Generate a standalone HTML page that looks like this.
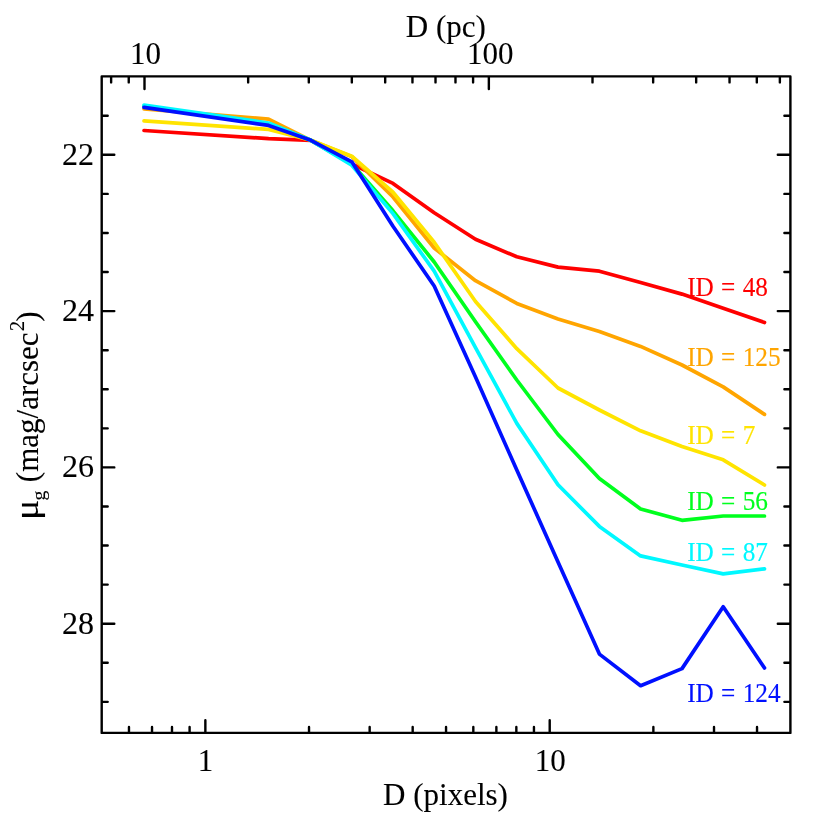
<!DOCTYPE html>
<html><head><meta charset="utf-8"><title>plot</title>
<style>html,body{margin:0;padding:0;background:#fff}svg{display:block;will-change:transform}text{font-family:"Liberation Serif",serif}</style></head><body>
<svg width="830" height="815" viewBox="0 0 830 815">
<rect width="830" height="815" fill="#fff"/>
<g fill="none" stroke-width="3.7" stroke-linejoin="round" stroke-linecap="round">
<polyline stroke="#ff0000" points="144.0,130.5 268.6,138.6 310.9,140.4 351.8,164.0 393.0,183.4 434.2,212.8 475.5,239.2 516.8,256.8 558.0,267.1 599.4,271.2 640.6,282.5 682.0,294.1 723.2,308.3 764.5,322.5"/>
<polyline stroke="#ffa500" points="144.0,109.0 268.6,119.1 310.9,140.3 351.8,156.6 393.0,197.0 434.2,248.0 475.5,280.7 516.8,303.4 558.0,318.9 599.4,331.5 640.6,346.4 682.0,365.0 723.2,386.9 764.5,414.4"/>
<polyline stroke="#ffe400" points="144.0,120.8 268.6,129.4 310.9,140.3 351.8,156.2 393.0,192.2 434.2,242.3 475.5,301.5 516.8,348.7 558.0,388.0 599.4,410.0 640.6,430.8 682.0,446.5 723.2,459.8 764.5,485.0"/>
<polyline stroke="#00ff1e" points="144.0,106.0 268.6,124.0 310.9,140.3 351.8,163.8 393.0,210.8 434.2,262.0 475.5,321.8 516.8,380.0 558.0,434.5 599.4,478.6 640.6,509.0 682.0,520.3 723.2,516.0 764.5,516.0"/>
<polyline stroke="#00f8ff" points="144.0,105.0 268.6,123.0 310.9,140.3 351.8,165.2 393.0,213.6 434.2,271.2 475.5,347.6 516.8,423.4 558.0,484.8 599.4,526.4 640.6,555.9 682.0,565.0 723.2,573.9 764.5,568.8"/>
<polyline stroke="#0010ff" points="144.0,107.3 268.6,125.4 310.9,140.3 351.8,161.8 393.0,226.3 434.2,286.0 475.5,377.0 516.8,470.0 558.0,562.0 599.4,654.1 640.6,685.7 682.0,668.6 723.2,606.8 764.5,668.0"/>
</g>
<g font-size="26.6" word-spacing="1.0">
<text transform="translate(687.2,295.8) scale(0.95,1)" fill="#ff0000" stroke="#ff0000" stroke-width="0.15">ID = 48</text>
<text transform="translate(687.2,365.5) scale(0.95,1)" fill="#ffa500" stroke="#ffa500" stroke-width="0.15">ID = 125</text>
<text transform="translate(687.2,443.6) scale(0.95,1)" fill="#ffe400" stroke="#ffe400" stroke-width="0.15">ID = 7</text>
<text transform="translate(687.2,509.5) scale(0.95,1)" fill="#00ff1e" stroke="#00ff1e" stroke-width="0.15">ID = 56</text>
<text transform="translate(687.2,560.7) scale(0.95,1)" fill="#00f8ff" stroke="#00f8ff" stroke-width="0.15">ID = 87</text>
<text transform="translate(687.2,701.7) scale(0.95,1)" fill="#0010ff" stroke="#0010ff" stroke-width="0.15">ID = 124</text>
</g>
<path d="M101.7,76.4H790.4V732.9H101.7ZM128.97,732.9v-6.0M152.02,732.9v-6.0M171.99,732.9v-6.0M189.60,732.9v-6.0M205.36,732.9v-12.6M309.02,732.9v-6.0M369.66,732.9v-6.0M412.68,732.9v-6.0M446.05,732.9v-6.0M473.32,732.9v-6.0M496.37,732.9v-6.0M516.34,732.9v-6.0M533.95,732.9v-6.0M549.71,732.9v-12.6M653.37,732.9v-6.0M714.01,732.9v-6.0M757.03,732.9v-6.0M111.13,76.4v6.0M128.74,76.4v6.0M144.50,76.4v12.6M248.16,76.4v6.0M308.80,76.4v6.0M351.82,76.4v6.0M385.19,76.4v6.0M412.46,76.4v6.0M435.51,76.4v6.0M455.48,76.4v6.0M473.09,76.4v6.0M488.85,76.4v12.6M592.51,76.4v6.0M653.15,76.4v6.0M696.17,76.4v6.0M729.54,76.4v6.0M756.81,76.4v6.0M779.86,76.4v6.0M101.7,115.73h6.0M790.4,115.73h-6.0M101.7,154.80h12.6M790.4,154.80h-12.6M101.7,193.88h6.0M790.4,193.88h-6.0M101.7,232.95h6.0M790.4,232.95h-6.0M101.7,272.03h6.0M790.4,272.03h-6.0M101.7,311.10h12.6M790.4,311.10h-12.6M101.7,350.18h6.0M790.4,350.18h-6.0M101.7,389.25h6.0M790.4,389.25h-6.0M101.7,428.33h6.0M790.4,428.33h-6.0M101.7,467.40h12.6M790.4,467.40h-12.6M101.7,506.48h6.0M790.4,506.48h-6.0M101.7,545.55h6.0M790.4,545.55h-6.0M101.7,584.62h6.0M790.4,584.62h-6.0M101.7,623.70h12.6M790.4,623.70h-12.6M101.7,662.78h6.0M790.4,662.78h-6.0M101.7,701.85h6.0M790.4,701.85h-6.0" fill="none" stroke="#000" stroke-width="2.4" stroke-linecap="round" stroke-linejoin="round"/>
<g font-size="31" fill="#000" stroke="#000" stroke-width="0.1">
<text transform="translate(94,164.7) scale(1.035,1)" text-anchor="end">22</text>
<text transform="translate(94,321.0) scale(1.035,1)" text-anchor="end">24</text>
<text transform="translate(94,477.3) scale(1.035,1)" text-anchor="end">26</text>
<text transform="translate(94,633.6) scale(1.035,1)" text-anchor="end">28</text>
<text x="205.4" y="771.2" text-anchor="middle">1</text>
<text x="550.2" y="771.2" text-anchor="middle">10</text>
<text x="145.5" y="63.8" text-anchor="middle">10</text>
<text x="490.3" y="63.5" text-anchor="middle">100</text>
<text x="445.8" y="37.3" text-anchor="middle">D (pc)</text>
<text x="445.5" y="805.3" text-anchor="middle">D (pixels)</text>
<text transform="translate(38.2,519.9) rotate(-90) scale(1.22,1.06)" x="0" y="0">μ</text>
<text transform="translate(38.2,519.2) rotate(-90)" y="0"><tspan font-size="19.8" x="18.6" dy="7">g</tspan><tspan dx="0.8" dy="-7"> (mag/arcsec</tspan><tspan font-size="20" dx="1.4" dy="-13.8">2</tspan><tspan dx="-0.6" dy="13.8">)</tspan></text>
</g>
</svg></body></html>
